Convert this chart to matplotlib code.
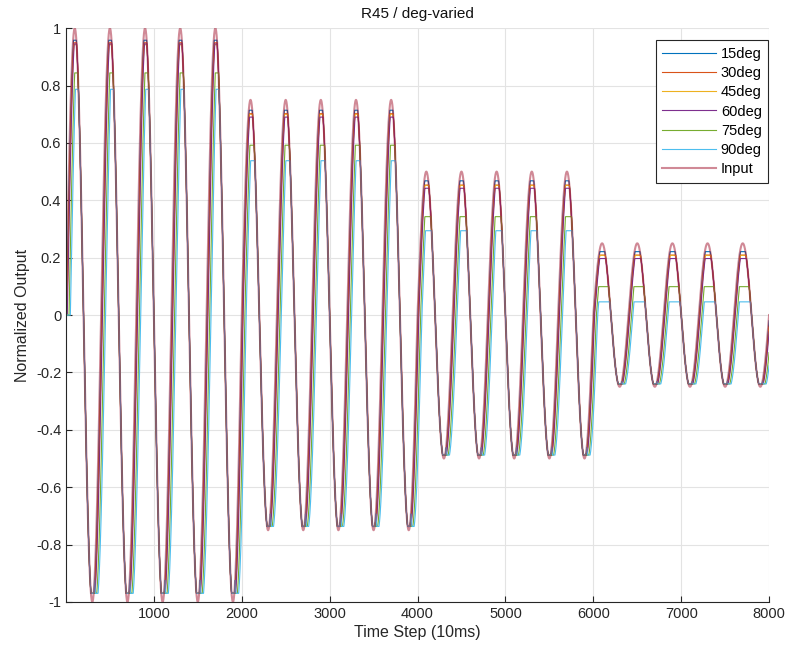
import numpy as np
import matplotlib

matplotlib.use("Agg")
import matplotlib.pyplot as plt


TIME_STEPS = np.arange(1, 8001)
PERIOD_STEPS = 400
SEGMENT_START = [0, 2000, 4000, 6000]
SEGMENT_AMPLITUDE = [1.0, 0.75, 0.5, 0.25]

SERIES_NAMES = ["15deg", "30deg", "45deg", "60deg", "75deg", "90deg"]
# rising-edge lag in time steps
RISE_LAG = [5, 10, 11, 15, 35, 50]
# peak level reached in each of the four amplitude segments
PEAK_LEVEL = [
    [0.958, 0.714, 0.468, 0.221],
    [0.949, 0.702, 0.453, 0.209],
    [0.942, 0.700, 0.452, 0.208],
    [0.945, 0.690, 0.442, 0.197],
    [0.844, 0.592, 0.343, 0.099],
    [0.787, 0.538, 0.294, 0.046],
]
TROUGH_LEVEL = [-0.970, -0.737, -0.488, -0.240]

COLORS = ["#0072BD", "#D95319", "#EDB120", "#7E2F8E", "#77AC30", "#4DBEEE"]
INPUT_COLOR = "#A2142F"

OUT_PATH = "out.png"


def segment_index(t):
    seg = np.searchsorted(SEGMENT_START, t, side="left") - 1
    return np.clip(seg, 0, len(SEGMENT_AMPLITUDE) - 1)


def input_signal(t):
    amp = np.asarray(SEGMENT_AMPLITUDE)[segment_index(t)]
    sig = amp * np.sin(2 * np.pi * t / PERIOD_STEPS)
    return np.where(t > 0, sig, 0.0)


def output_signal(t, lag, peaks):
    seg = segment_index(t - lag)
    lagged = np.minimum(input_signal(t - lag), input_signal(t))
    hi = np.asarray(peaks)[seg]
    lo = np.asarray(TROUGH_LEVEL)[seg]
    return np.clip(lagged, lo, hi)


def main() -> None:
    plt.rcParams["font.family"] = ["Liberation Sans", "DejaVu Sans"]
    fig = plt.figure(figsize=(7.88, 6.55), dpi=100)
    ax = fig.add_axes([0.0838, 0.081, 0.8922, 0.876])

    for name, lag, peaks, color in zip(SERIES_NAMES, RISE_LAG, PEAK_LEVEL, COLORS):
        ax.plot(TIME_STEPS, output_signal(TIME_STEPS, lag, peaks), color=color,
                linewidth=0.8, label=name)
    ax.plot(TIME_STEPS, input_signal(TIME_STEPS), color=INPUT_COLOR, alpha=0.5,
            linewidth=1.5, label="Input")

    y_ticks = np.round(np.arange(-1, 1.01, 0.2), 1) + 0.0
    ax.set_xlim(1, 8000)
    ax.set_ylim(-1, 1)
    ax.set_xticks(np.arange(1000, 8001, 1000))
    ax.set_yticks(y_ticks)
    ax.set_yticklabels(["0" if abs(v) < 1e-9 else f"{v:g}" for v in y_ticks])
    ax.tick_params(direction="in", length=4, labelsize=10.5, colors="#262626")
    ax.grid(True, color="#e3e3e3", linewidth=0.8)
    ax.set_axisbelow(True)
    for side in ("top", "right"):
        ax.spines[side].set_visible(False)
    for side in ("left", "bottom"):
        ax.spines[side].set_color("#262626")
        ax.spines[side].set_linewidth(0.8)

    ax.set_title("R45 / deg-varied", fontsize=11, color="#111111", pad=7)
    ax.set_xlabel("Time Step (10ms)", fontsize=11.5, color="#262626", labelpad=3)
    ax.set_ylabel("Normalized Output", fontsize=11.5, color="#262626", labelpad=4)

    leg = ax.legend(loc="upper right", bbox_to_anchor=(0.999, 0.979), fontsize=10.5,
                    fancybox=False, framealpha=1, edgecolor="#262626",
                    borderaxespad=0, handlelength=3.7, handletextpad=0.3,
                    labelspacing=0.36, borderpad=0.45)
    leg.get_frame().set_linewidth(0.8)

    fig.savefig(OUT_PATH, dpi=100)
    plt.close(fig)


if __name__ == "__main__":
    main()
